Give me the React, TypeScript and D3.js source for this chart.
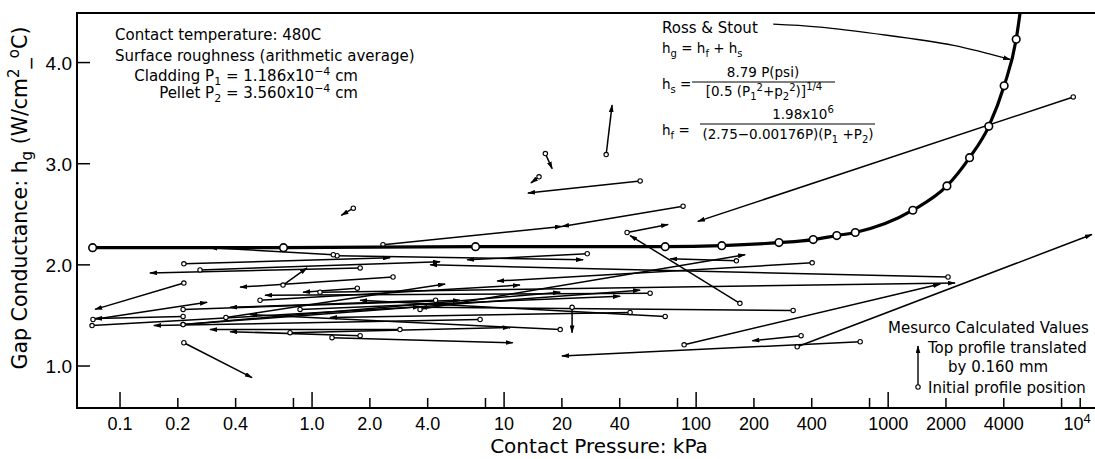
import * as d3 from "d3";

// Ross & Stout curve, open circles (kPa, W/cm2-C)
const rossP = [0.072, 0.71, 7.1, 69, 136, 270, 407, 540, 674, 1344, 2023, 2654, 3342, 4018, 4642];
const rossH = [2.17, 2.17, 2.18, 2.18, 2.19, 2.22, 2.25, 2.29, 2.32, 2.54, 2.78, 3.06, 3.37, 3.77, 4.23];
// where the curve runs out of the top of the frame
const rossTopP = 4950;
const rossTopH = 4.6;

// leader from the "Ross & Stout" label down to the curve
const noteP = [252, 442, 985, 2188, 4318];
const noteH = [4.38, 4.35, 4.27, 4.17, 4.03];

// Mesurco values: initial profile position (circle) -> translated profile (arrow head)
const fromP = [34, 16.4, 15.2, 51.1, 1.64, 9200, 85.5, 43.7, 169, 336, 715, 352, 86.6, 2050, 402, 162, 3.65, 320, 69, 1.1, 2.34, 27.1, 1.35, 22.6, 0.768, 1.27, 1.29, 0.215, 1.78, 0.215, 0.0723, 0.0715, 7.5, 0.213, 2.87, 1.78, 0.215, 0.706, 2.64, 1.72, 57.6, 45.3, 0.356, 0.213, 0.213, 19.6, 0.213, 0.536, 0.261, 0.866, 4.4];
const fromH = [3.09, 3.1, 2.87, 2.83, 2.56, 3.66, 2.58, 2.32, 1.62, 1.19, 1.24, 1.3, 1.21, 1.88, 2.02, 2.04, 1.56, 1.55, 1.49, 1.73, 2.2, 2.11, 2.09, 1.58, 1.33, 1.28, 2.1, 2.01, 1.97, 1.82, 1.46, 1.4, 1.46, 1.49, 1.36, 1.3, 1.23, 1.8, 1.88, 1.77, 1.72, 1.53, 1.48, 1.56, 1.41, 1.36, 1.41, 1.65, 1.95, 1.56, 1.65];
const toP = [36.5, 17.8, 13.8, 13.3, 1.42, 102, 20, 71.5, 45.3, 11500, 20, 196, 1866, 4.12, 9.2, 73.2, 180, 3.65, 1.78, 2230, 20, 6.42, 25.8, 22.6, 10.7, 11.1, 0.294, 2.55, 0.143, 0.0741, 0.284, 3.65, 0.15, 0.0741, 0.294, 0.374, 0.487, 0.942, 0.422, 0.898, 0.569, 1.24, 4.93, 5.9, 51.1, 0.475, 19.6, 12.1, 4.64, 40.2, 0.374];
const toH = [3.58, 2.95, 2.81, 2.71, 2.49, 2.43, 2.38, 2.4, 2.29, 2.3, 1.1, 1.25, 1.81, 2.0, 1.84, 2.06, 2.1, 1.58, 1.65, 1.82, 2.38, 2.05, 2.05, 1.33, 1.38, 1.23, 2.17, 2.07, 1.92, 1.56, 1.63, 1.585, 1.4, 1.47, 1.36, 1.34, 0.885, 1.97, 1.78, 1.73, 1.7, 1.48, 1.81, 1.65, 1.75, 1.51, 1.73, 1.8, 2.03, 1.69, 1.58];

// axes
const xTicks = [0.1, 0.2, 0.4, 0.8, 1, 2, 4, 8, 10, 20, 40, 80, 100, 200, 400, 800, 1000, 2000, 4000, 8000, 10000];
const xMajor = [0.1, 1, 10, 100, 1000];
const xLabelValues = [0.1, 0.2, 0.4, 1, 2, 4, 10, 20, 40, 100, 200, 400, 1000, 2000, 4000];
const xLabels = ["0.1", "0.2", "0.4", "1.0", "2.0", "4.0", "10", "20", "40", "100", "200", "400", "1000", "2000", "4000"];
const yTicks = [1, 2, 3, 4];
const yLabels = ["1.0", "2.0", "3.0", "4.0"];

const sans = "'DejaVu Sans', sans-serif";
const num = "'Liberation Sans', Arial, sans-serif";

export default function App() {
  const left = 77, right = 1094, top = 13, bottom = 408;
  const x = d3.scaleLog().domain([0.0597, 11800]).range([left, right]);
  const y = d3.scaleLinear().domain([0.585, 4.49]).range([bottom, top]);

  const line = d3.line<[number, number]>().x((d) => x(d[0])).y((d) => y(d[1]));
  const rossPts: [number, number][] = rossP.map((p, i) => [p, rossH[i]] as [number, number]);
  const rossPath = line.curve(d3.curveMonotoneX)([...rossPts, [rossTopP, rossTopH]]);
  const notePath = d3
    .line<[number, number]>()
    .x((d) => x(d[0]))
    .y((d) => y(d[1]))
    .curve(d3.curveNatural)(noteP.map((p, i) => [p, noteH[i]] as [number, number]));

  return (
    <div style={{ position: "absolute", left: 0, top: 0 }}>
      <svg width={1095} height={459} style={{ display: "block", background: "#fff" }}>
        <defs>
          <marker id="head" viewBox="0 0 10 6" refX={9} refY={3} markerWidth={8} markerHeight={5}
            orient="auto" markerUnits="userSpaceOnUse">
            <path d="M0,0L10,3L0,6z" fill="#000" />
          </marker>
          <clipPath id="plot">
            <rect x={left} y={top} width={1095 - left} height={bottom - top} />
          </clipPath>
        </defs>

        {/* frame */}
        <g stroke="#000" strokeWidth={2} fill="none">
          <line x1={left} x2={left} y1={top - 1} y2={bottom + 1} />
          <line x1={left} x2={right + 1} y1={bottom} y2={bottom} />
          <line x1={left} x2={1095} y1={top} y2={top} />
        </g>

        {/* x ticks, inside */}
        <g stroke="#000" strokeWidth={1.5}>
          {xTicks.map((t) => (
            <line key={t} x1={x(t)} x2={x(t)} y1={bottom} y2={bottom - (xMajor.includes(t) ? 16 : 10)} />
          ))}
        </g>
        <g fontFamily={num} fontSize={18} textAnchor="middle">
          {xLabelValues.map((t, i) => (
            <text key={t} x={x(t)} y={430}>{xLabels[i]}</text>
          ))}
          <text x={x(10000) - 3} y={430}>
            10<tspan dy={-7} fontSize={13}>4</tspan>
          </text>
        </g>

        {/* y ticks, inside */}
        <g stroke="#000" strokeWidth={1.5}>
          {yTicks.map((t) => (
            <line key={t} x1={left} x2={left + 13} y1={y(t)} y2={y(t)} />
          ))}
        </g>
        <g fontFamily={num} fontSize={19} textAnchor="end">
          {yTicks.map((t, i) => (
            <text key={t} x={72} y={y(t) + 7}>{yLabels[i]}</text>
          ))}
        </g>

        {/* axis titles */}
        <text x={599} y={453} textAnchor="middle" fontFamily={sans} fontSize={20}>
          Contact Pressure: kPa
        </text>
        <text transform="translate(27,198) rotate(-90)" textAnchor="middle" fontFamily={sans} fontSize={20.5}>
          Gap Conductance: h<tspan dy={5} fontSize={15}>g</tspan>
          <tspan dy={-5}> (W/cm</tspan>
          <tspan dy={-8} fontSize={15}>2</tspan>
          <tspan dy={8}>_</tspan>
          <tspan dy={-8} fontSize={15}>o</tspan>
          <tspan dy={8}>C)</tspan>
        </text>

        {/* Mesurco arrows */}
        <g clipPath="url(#plot)">
          <g stroke="#000" strokeWidth={1.5} fill="none">
            {fromP.map((p, i) => (
              <line key={i} x1={x(p)} y1={y(fromH[i])} x2={x(toP[i])} y2={y(toH[i])} markerEnd="url(#head)" />
            ))}
          </g>
          <g stroke="#000" strokeWidth={1.1} fill="#fff">
            {fromP.map((p, i) => (
              <circle key={i} cx={x(p)} cy={y(fromH[i])} r={2.2} />
            ))}
          </g>

          {/* Ross & Stout */}
          <path d={rossPath ?? ""} fill="none" stroke="#000" strokeWidth={3.2} />
          <g stroke="#000" strokeWidth={1.6} fill="#fff">
            {rossP.map((p, i) => (
              <circle key={i} cx={x(p)} cy={y(rossH[i])} r={3.8} />
            ))}
          </g>
          <path d={notePath ?? ""} fill="none" stroke="#000" strokeWidth={1.4} markerEnd="url(#head)" />
        </g>

        {/* upper left notes */}
        <g fontFamily={sans} fontSize={15}>
          <text x={115} y={40}>Contact temperature: 480C</text>
          <text x={115} y={61}>Surface roughness (arithmetic average)</text>
          <text x={358} y={81} textAnchor="end">
            Cladding P<tspan dy={4} fontSize={11}>1</tspan>
            <tspan dy={-4}> = 1.186x10</tspan>
            <tspan dy={-6} fontSize={11}>−4</tspan>
            <tspan dy={6}> cm</tspan>
          </text>
          <text x={358} y={98} textAnchor="end">
            Pellet P<tspan dy={4} fontSize={11}>2</tspan>
            <tspan dy={-4}> = 3.560x10</tspan>
            <tspan dy={-6} fontSize={11}>−4</tspan>
            <tspan dy={6}> cm</tspan>
          </text>
        </g>

        {/* Ross & Stout formulas */}
        <g fontFamily={sans} fontSize={13.5}>
          <text x={662} y={33} fontSize={15}>Ross &amp; Stout</text>
          <text x={662} y={53}>
            h<tspan dy={4} fontSize={10}>g</tspan>
            <tspan dy={-4}> = h</tspan>
            <tspan dy={4} fontSize={10}>f</tspan>
            <tspan dy={-4}> + h</tspan>
            <tspan dy={4} fontSize={10}>s</tspan>
          </text>
          <text x={662} y={89}>
            h<tspan dy={4} fontSize={10}>s</tspan>
            <tspan dy={-4}> =</tspan>
          </text>
          <line x1={692} x2={835} y1={82} y2={82} stroke="#000" strokeWidth={1} />
          <text x={763} y={77} textAnchor="middle">8.79 P(psi)</text>
          <text x={764} y={96} textAnchor="middle">
            [0.5 (P<tspan dy={4} fontSize={10}>1</tspan>
            <tspan dy={-9} fontSize={10}>2</tspan>
            <tspan dy={5}>+p</tspan>
            <tspan dy={4} fontSize={10}>2</tspan>
            <tspan dy={-9} fontSize={10}>2</tspan>
            <tspan dy={5}>)]</tspan>
            <tspan dy={-6} fontSize={10}>1/4</tspan>
          </text>
          <text x={662} y={135}>
            h<tspan dy={4} fontSize={10}>f</tspan>
            <tspan dy={-4}> =</tspan>
          </text>
          <line x1={700} x2={875} y1={124} y2={124} stroke="#000" strokeWidth={1} />
          <text x={803} y={119} textAnchor="middle">
            1.98x10<tspan dy={-6} fontSize={10}>6</tspan>
          </text>
          <text x={788} y={139} textAnchor="middle">
            (2.75−0.00176P)(P<tspan dy={4} fontSize={10}>1</tspan>
            <tspan dy={-4}> +P</tspan>
            <tspan dy={4} fontSize={10}>2</tspan>
            <tspan dy={-4}>)</tspan>
          </text>
        </g>

        {/* legend */}
        <g fontFamily={sans} fontSize={15}>
          <text x={888} y={333}>Mesurco Calculated Values</text>
          <text x={928} y={353}>Top profile translated</text>
          <text x={948} y={372}>by 0.160 mm</text>
          <text x={928} y={393}>Initial profile position</text>
        </g>
        <line x1={918} x2={918} y1={386} y2={346} stroke="#000" strokeWidth={1.4} markerEnd="url(#head)" />
        <circle cx={918} cy={387} r={2.2} fill="#fff" stroke="#000" strokeWidth={1.1} />
      </svg>
    </div>
  );
}
